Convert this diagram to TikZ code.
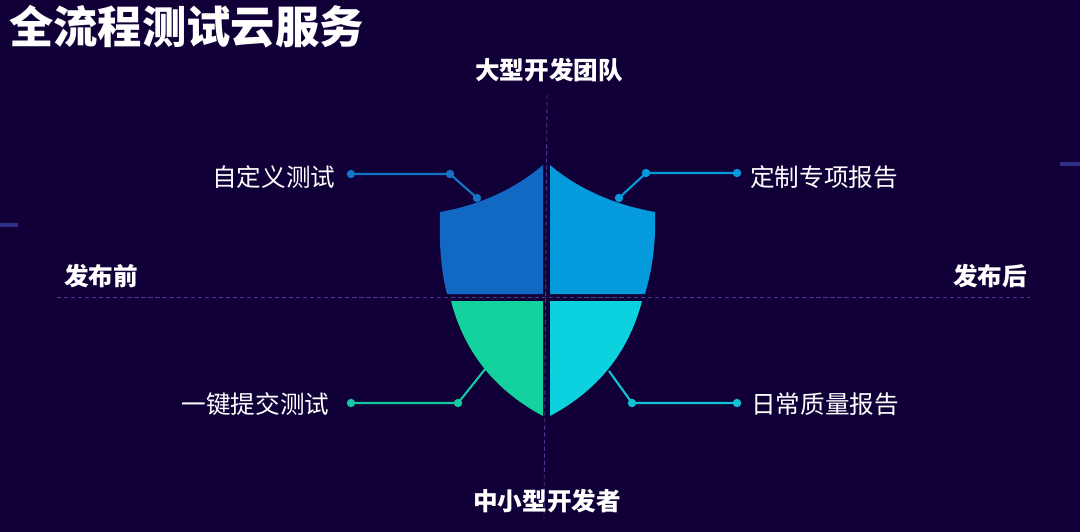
\documentclass[tikz,border=0pt]{standalone}
\usepackage{fontspec}
\newfontfamily\cjk{Noto Sans CJK SC}
\definecolor{bgdark}{HTML}{110038}
\definecolor{axisline}{HTML}{473A94}
\definecolor{edgeline}{HTML}{2E2F88}
\definecolor{shieldblue}{HTML}{1269C4}
\definecolor{shieldsky}{HTML}{049ADB}
\definecolor{shieldgreen}{HTML}{13D29E}
\definecolor{shieldcyan}{HTML}{0BD2DE}
\definecolor{linkblue}{HTML}{1474C6}
\definecolor{linkgreen}{HTML}{14C8A4}
\definecolor{linkcyan}{HTML}{10C4D8}
\tikzset{
    axis/.style={axisline, densely dashed, line width=0.6pt},
    edgedash/.style={edgeline, line width=2.4pt},
    axislabel/.style={text=white, font=\cjk\bfseries\fontsize{17.5}{20}\selectfont, inner sep=0pt},
    itemlabel/.style={text=white, font=\cjk\fontsize{17.5}{20}\selectfont, inner sep=0pt},
    dot/.style={circle, fill=#1, draw=none, minimum size=6pt, inner sep=0pt, outer sep=-1pt},
    link/.style={#1, line width=1.5pt}
}
\begin{document}
\begin{tikzpicture}[x=0.025cm, y=-0.025cm]

            % Background
            \fill[bgdark] (0,0) rectangle (1080,532);
            \useasboundingbox (0,0) rectangle (1080,532);

            \draw[edgedash] (0,225) -- (18,225);
            \draw[edgedash] (1060,164) -- (1080,164);

            % Shield
            \fill[shieldblue] (543,165)
                .. controls (515,189) and (480,205) .. (440,212)
                .. controls (439,245) and (441,270) .. (447,294)
                -- (543,294) -- cycle;
            \fill[shieldsky] (550,165)
                .. controls (578,189) and (615,205) .. (655,212)
                .. controls (656,245) and (652,270) .. (645,294)
                -- (550,294) -- cycle;
            \fill[shieldgreen] (451,301) -- (543,301) -- (543,416)
                .. controls (498,392) and (465,355) .. (451,301) -- cycle;
            \fill[shieldcyan] (550,301) -- (642,301)
                .. controls (628,355) and (595,392) .. (550,416) -- cycle;

            % Axes
            \draw[axis] (547,95) -- (544,518);
            \draw[axis] (57,297.5) -- (1030,297.5);

            % Axis labels
            \node[axislabel] (top) at (549,70) {大型开发团队};
            \node[axislabel] (bottom) at (547,501) {中小型开发者};
            \node[axislabel] (before) at (101,276) {发布前};
            \node[axislabel] (after) at (990,276) {发布后};

            % Title
            \node[text=white, font=\cjk\bfseries\fontsize{31.5}{36}\selectfont, inner sep=0pt] (title) at (186.5,27) {全流程测试云服务};

            % Item labels
            \node[itemlabel, anchor=east] (custom) at (335.5,177) {自定义测试};
            \node[itemlabel, anchor=west] (special) at (750,177) {定制专项报告};
            \node[itemlabel, anchor=east] (submit) at (329.5,404) {一键提交测试};
            \node[itemlabel, anchor=west] (daily) at (751,404) {日常质量报告};

            % Connectors
            \node[dot=linkblue] (a1) at (351,174) {};
            \node[dot=linkblue] (a2) at (450,174) {};
            \node[dot=linkblue] (a3) at (477,198) {};
            \draw[link=linkblue] (a1) -- (a2) -- (a3);

            \node[dot=shieldsky] (b1) at (737,173) {};
            \node[dot=shieldsky] (b2) at (646,173) {};
            \node[dot=shieldsky] (b3) at (619,198) {};
            \draw[link=shieldsky] (b1) -- (b2) -- (b3);

            \node[dot=linkgreen] (c1) at (351,403) {};
            \node[dot=linkgreen] (c2) at (458,403) {};
            \coordinate (c3) at (486,368);
            \draw[link=linkgreen] (c1) -- (c2) -- (c3);

            \node[dot=linkcyan] (d1) at (737,403) {};
            \node[dot=linkcyan] (d2) at (632,403) {};
            \coordinate (d3) at (609,371);
            \draw[link=linkcyan] (d1) -- (d2) -- (d3);

        \end{tikzpicture}
\end{document}
